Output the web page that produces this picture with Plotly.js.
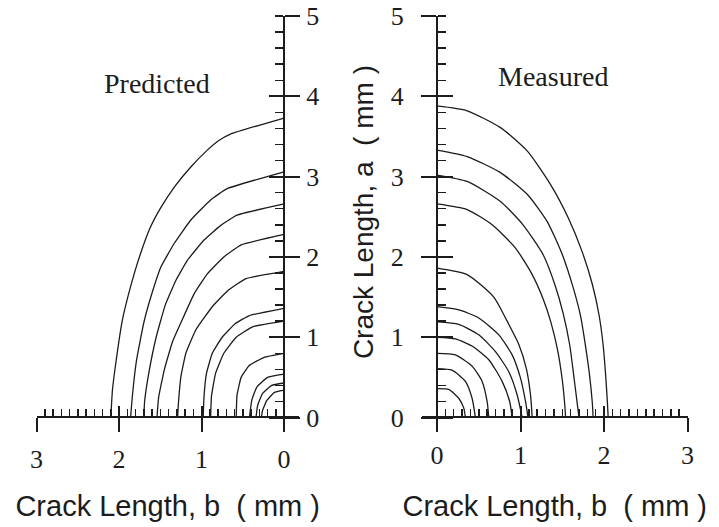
<!DOCTYPE html>
<html><head><meta charset="utf-8">
<script src="https://cdn.plot.ly/plotly-3.0.1.min.js"></script>
<style>html,body{margin:0;padding:0;background:#fff}#chart{width:719px;height:527px}</style>
</head><body><div id="chart"></div>
<script>
// ---------- tick labels / texts ----------
const xTickVals = [0, 1, 2, 3];
const xTickText = ['0', '1', '2', '3'];
const yTickVals = [0, 1, 2, 3, 4, 5];
const yTickText = ['0', '1', '2', '3', '4', '5'];
const panelNames = ['Predicted', 'Measured'];
const xTitleText = 'Crack Length, b\u00a0 ( mm )';
const yTitleText = 'Crack Length, a\u00a0 ( mm )';

// ---------- Predicted crack fronts (b, a) in mm ----------
const p1_b = [0, 0.65, 0.79, 0.93, 1.13, 1.33, 1.49, 1.62, 1.74, 1.86, 1.96, 2.04, 2.08, 2.10];
const p1_a = [3.73, 3.53, 3.45, 3.33, 3.12, 2.87, 2.62, 2.37, 2.04, 1.63, 1.21, 0.67, 0.34, 0];
const p2_b = [0, 0.69, 0.89, 1.13, 1.33, 1.49, 1.60, 1.70, 1.79, 1.84, 1.86];
const p2_a = [3.06, 2.85, 2.71, 2.46, 2.17, 1.88, 1.55, 1.18, 0.70, 0.25, 0];
const p3_b = [0, 0.57, 0.77, 0.97, 1.17, 1.31, 1.44, 1.55, 1.64, 1.69, 1.70];
const p3_a = [2.66, 2.52, 2.39, 2.21, 1.96, 1.71, 1.40, 1.00, 0.55, 0.20, 0];
const p4_b = [0, 0.52, 0.73, 0.93, 1.09, 1.22, 1.35, 1.45, 1.52, 1.54];
const p4_a = [2.28, 2.15, 2.00, 1.79, 1.54, 1.25, 0.95, 0.60, 0.25, 0];
const p5_b = [0, 0.46, 0.67, 0.87, 1.07, 1.19, 1.25, 1.28, 1.29];
const p5_a = [1.82, 1.73, 1.59, 1.38, 1.09, 0.80, 0.51, 0.18, 0];
const p6_b = [0, 0.42, 0.59, 0.75, 0.87, 0.94, 0.97, 0.98];
const p6_a = [1.36, 1.27, 1.17, 1.00, 0.80, 0.55, 0.26, 0];
const p7_b = [0, 0.38, 0.58, 0.73, 0.83, 0.88, 0.89];
const p7_a = [1.20, 1.13, 1.00, 0.80, 0.55, 0.26, 0];
const p8_b = [0, 0.24, 0.42, 0.52, 0.57, 0.58];
const p8_a = [0.80, 0.75, 0.65, 0.50, 0.28, 0];
const p9_b = [0, 0.20, 0.33, 0.39, 0.42];
const p9_a = [0.54, 0.50, 0.38, 0.22, 0];
const p10_b = [0, 0.15, 0.26, 0.32, 0.34];
const p10_a = [0.43, 0.40, 0.30, 0.15, 0];
const p11_b = [0, 0.12, 0.21, 0.26, 0.275];
const p11_a = [0.34, 0.31, 0.21, 0.09, 0];

// ---------- Measured crack fronts (b, a) in mm ----------
const m1_b = [0, 0.36, 0.76, 1.08, 1.36, 1.57, 1.74, 1.86, 1.94, 1.99, 2.02, 2.04, 2.05];
const m1_a = [3.88, 3.82, 3.61, 3.32, 2.90, 2.49, 2.06, 1.66, 1.28, 0.90, 0.52, 0.20, 0];
const m2_b = [0, 0.36, 0.76, 1.08, 1.32, 1.50, 1.63, 1.72, 1.78, 1.83, 1.86, 1.87];
const m2_a = [3.33, 3.25, 3.05, 2.78, 2.44, 2.03, 1.62, 1.26, 0.88, 0.50, 0.18, 0];
const m3_b = [0, 0.36, 0.76, 1.03, 1.27, 1.41, 1.51, 1.59, 1.64, 1.68, 1.70];
const m3_a = [3.02, 2.94, 2.69, 2.40, 2.03, 1.66, 1.30, 0.90, 0.50, 0.17, 0];
const m4_b = [0, 0.36, 0.66, 0.94, 1.14, 1.27, 1.36, 1.44, 1.50, 1.53, 1.54];
const m4_a = [2.66, 2.59, 2.40, 2.11, 1.78, 1.48, 1.20, 0.86, 0.47, 0.16, 0];
const m5_b = [0, 0.36, 0.68, 0.84, 0.98, 1.07, 1.12, 1.14];
const m5_a = [1.86, 1.78, 1.50, 1.20, 0.91, 0.61, 0.28, 0];
const m6_b = [0, 0.26, 0.50, 0.74, 0.90, 1.00, 1.06, 1.09];
const m6_a = [1.38, 1.34, 1.24, 1.03, 0.78, 0.49, 0.20, 0];
const m7_b = [0, 0.26, 0.50, 0.70, 0.86, 0.96, 1.02];
const m7_a = [1.19, 1.16, 1.03, 0.82, 0.57, 0.28, 0];
const m8_b = [0, 0.22, 0.42, 0.62, 0.78, 0.87, 0.90];
const m8_a = [1.00, 0.98, 0.89, 0.72, 0.45, 0.20, 0];
const m9_b = [0, 0.22, 0.42, 0.54, 0.60, 0.62];
const m9_a = [0.80, 0.78, 0.64, 0.45, 0.20, 0];
const m10_b = [0, 0.18, 0.34, 0.42, 0.46];
const m10_a = [0.61, 0.59, 0.45, 0.24, 0];
const m11_b = [0, 0.14, 0.26, 0.32, 0.34];
const m11_a = [0.36, 0.35, 0.24, 0.12, 0];

// ---------- build traces ----------
const INK = '#1c1c1c';
const predicted = [[p1_b,p1_a],[p2_b,p2_a],[p3_b,p3_a],[p4_b,p4_a],[p5_b,p5_a],[p6_b,p6_a],
                   [p7_b,p7_a],[p8_b,p8_a],[p9_b,p9_a],[p10_b,p10_a],[p11_b,p11_a]];
const measured = [[m1_b,m1_a],[m2_b,m2_a],[m3_b,m3_a],[m4_b,m4_a],[m5_b,m5_a],[m6_b,m6_a],
                  [m7_b,m7_a],[m8_b,m8_a],[m9_b,m9_a],[m10_b,m10_a],[m11_b,m11_a]];

const traces = [];
predicted.forEach(([b, a], i) => traces.push({
  type: 'scatter', mode: 'lines', x: b, y: a, xaxis: 'x', yaxis: 'y',
  name: 'Predicted ' + (i + 1), showlegend: false, hoverinfo: 'x+y',
  line: {color: INK, width: 1.3, shape: 'spline', smoothing: 0.35}
}));
measured.forEach(([b, a], i) => traces.push({
  type: 'scatter', mode: 'lines', x: b, y: a, xaxis: 'x2', yaxis: 'y2',
  name: 'Measured ' + (i + 1), showlegend: false, hoverinfo: 'x+y',
  line: {color: INK, width: 1.3, shape: 'spline', smoothing: 0.6}
}));
// empty helper traces so the tick-crossing overlay axes are drawn
[['x3','y'],['x','y3'],['x4','y2'],['x2','y4']].forEach(([xa, ya]) => traces.push({
  type: 'scatter', mode: 'lines', x: [], y: [], xaxis: xa, yaxis: ya, showlegend: false, hoverinfo: 'skip'
}));

// minor tick positions (every 0.1 mm, skipping the integers)
const minorXVals = [];
for (let i = 1; i < 30; i++) if (i % 10 !== 0) minorXVals.push(i / 10);

const serif = 'Liberation Serif';
const titleFont = {family: 'Liberation Sans', size: 29, color: INK};

const X_LEFT = [0.0508, 0.4157], X_RIGHT = [0.5869, 0.9562];
const Y_DOM = [0.1803, 0.9696];
const X_POS = 0.2078;
const YL_POS = 0.3950, YR_POS = 0.6078;
const XR_L = [3, -0.18], XR_R = [-0.18, 3], YR = [-0.18, 5];

const base = {showgrid: false, zeroline: false, fixedrange: true, tickcolor: INK, tickwidth: 2};

function xMain(domain, range, title, standoff) {
  return Object.assign({}, base, {
    domain, range, anchor: 'free', position: X_POS, side: 'bottom',
    showline: true, linecolor: INK, linewidth: 2,
    tickmode: 'array', tickvals: xTickVals, ticktext: xTickText,
    ticks: 'outside', ticklen: 14,
    tickfont: {family: serif, size: 26, color: INK}, ticklabelstandoff: standoff,
    minor: {tickmode: 'array', tickvals: minorXVals, ticks: 'inside', ticklen: 7, tickcolor: INK, tickwidth: 1.5, showgrid: false},
    title: {text: title, font: titleFont, standoff: 20 + (6 - standoff)}
  });
}
function xOver(over, range) {
  return Object.assign({}, base, {
    overlaying: over, range, anchor: 'free', position: X_POS, side: 'bottom',
    showline: false, tickmode: 'array', tickvals: xTickVals, ticks: 'inside', ticklen: 11,
    showticklabels: false
  });
}
function yMain(pos, side, standoff) {
  return Object.assign({}, base, {
    domain: Y_DOM, range: YR, anchor: 'free', position: pos, side,
    showline: true, linecolor: INK, linewidth: 2,
    tickmode: 'array', tickvals: yTickVals, ticktext: yTickText,
    ticks: 'outside', ticklen: 15,
    tickfont: {family: serif, size: 26, color: INK}, ticklabelstandoff: standoff,
    minor: {dtick: 0.2, tick0: 0, ticks: 'inside', ticklen: 8, tickcolor: INK, tickwidth: 1.5, showgrid: false},
    title: {text: ''}
  });
}
function yOver(over, pos, side) {
  return Object.assign({}, base, {
    overlaying: over, range: YR, anchor: 'free', position: pos, side,
    showline: false, tickmode: 'array', tickvals: yTickVals, ticks: 'inside', ticklen: 15,
    showticklabels: false
  });
}

const layout = {
  width: 719, height: 527,
  margin: {l: 0, r: 0, t: 0, b: 0},
  paper_bgcolor: '#ffffff', plot_bgcolor: 'rgba(0,0,0,0)',
  showlegend: false,
  xaxis: xMain(X_LEFT, XR_L, xTitleText, 4),
  xaxis2: xMain(X_RIGHT, XR_R, xTitleText, 0),
  xaxis3: xOver('x', XR_L),
  xaxis4: xOver('x2', XR_R),
  yaxis: yMain(YL_POS, 'right', 1),
  yaxis2: yMain(YR_POS, 'left', 12),
  yaxis3: yOver('y', YL_POS, 'right'),
  yaxis4: yOver('y2', YR_POS, 'left'),
  annotations: [
    {text: panelNames[0], xref: 'paper', yref: 'paper', x: 0.218, y: 0.8425, showarrow: false,
     xanchor: 'center', yanchor: 'middle', font: {family: serif, size: 28, color: INK}},
    {text: panelNames[1], xref: 'paper', yref: 'paper', x: 0.769, y: 0.854, showarrow: false,
     xanchor: 'center', yanchor: 'middle', font: {family: serif, size: 28, color: INK}},
    {text: yTitleText, xref: 'paper', yref: 'paper', x: 0.505, y: 0.5977, showarrow: false,
     textangle: -90, xanchor: 'center', yanchor: 'middle',
     font: {family: 'Liberation Sans', size: 28, color: INK}}
  ]
};

Plotly.newPlot('chart', traces, layout, {displayModeBar: false, staticPlot: true});
</script>
</body></html>
